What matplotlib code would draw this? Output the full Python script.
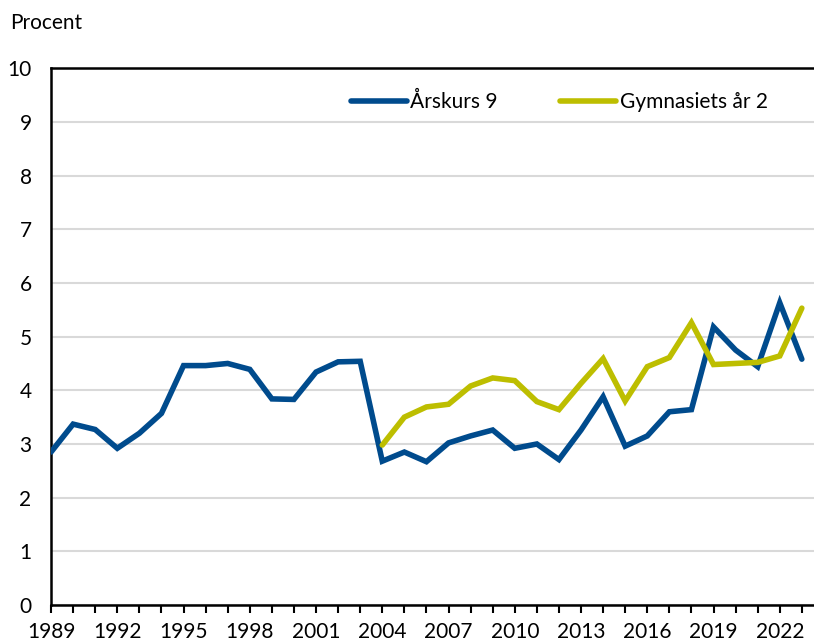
import matplotlib
matplotlib.use("Agg")
import matplotlib.pyplot as plt
from matplotlib.ticker import MultipleLocator

plt.rcParams['font.family'] = ['Lato', 'DejaVu Sans']

# data
years_gr9 = list(range(1989, 2024))
arskurs9 = [2.85, 3.37, 3.27, 2.92, 3.20, 3.57, 4.46, 4.46, 4.50, 4.39,
            3.84, 3.83, 4.34, 4.53, 4.54, 2.68, 2.85, 2.67, 3.02, 3.15,
            3.26, 2.92, 3.00, 2.71, 3.26, 3.88, 2.96, 3.15, 3.60, 3.64,
            5.18, 4.75, 4.44, 5.63, 4.58]

years_gy2 = list(range(2004, 2024))
gymnasiet2 = [2.98, 3.50, 3.69, 3.74, 4.08, 4.23, 4.18, 3.79, 3.64, 4.13,
              4.59, 3.80, 4.44, 4.61, 5.26, 4.48, 4.50, 4.52, 4.64, 5.53]

label_years = list(range(1989, 2024, 3))

blue = '#004B8D'
green = '#BDBE00'

fig = plt.figure(figsize=(8.14, 6.43), dpi=100)
ax = fig.add_axes([0.0627, 0.059, 0.94, 0.835])

ax.plot(years_gr9, arskurs9, color=blue, lw=4, label='Årskurs 9',
        solid_capstyle='round', solid_joinstyle='miter', zorder=3)
ax.plot(years_gy2, gymnasiet2, color=green, lw=4, label='Gymnasiets år 2',
        solid_capstyle='round', solid_joinstyle='miter', zorder=3)

ax.set_xlim(1989, 2023.65)
ax.set_ylim(0, 10)
ax.yaxis.set_major_locator(MultipleLocator(1))
ax.set_xticks(label_years)
ax.set_xticks(years_gr9, minor=True)
ax.tick_params(axis='x', which='both', direction='out', length=6, width=1.5,
               labelsize=15, pad=6)
ax.tick_params(axis='y', length=0, labelsize=15, pad=14)
ax.grid(axis='y', color='#D9D9D9', lw=1.5, zorder=0)
ax.set_axisbelow(True)

for side in ['left', 'bottom', 'top']:
    ax.spines[side].set_linewidth(1.8)
    ax.spines[side].set_color('black')
ax.spines['right'].set_visible(False)

fig.text(0.012, 0.965, 'Procent', fontsize=15, ha='left', va='center')

ax.legend(loc='upper right', bbox_to_anchor=(0.961, 0.99), ncol=2, frameon=False,
          fontsize=15, handlelength=2.7, handletextpad=0.15, columnspacing=3.0)

fig.savefig('out.png', dpi=100)
